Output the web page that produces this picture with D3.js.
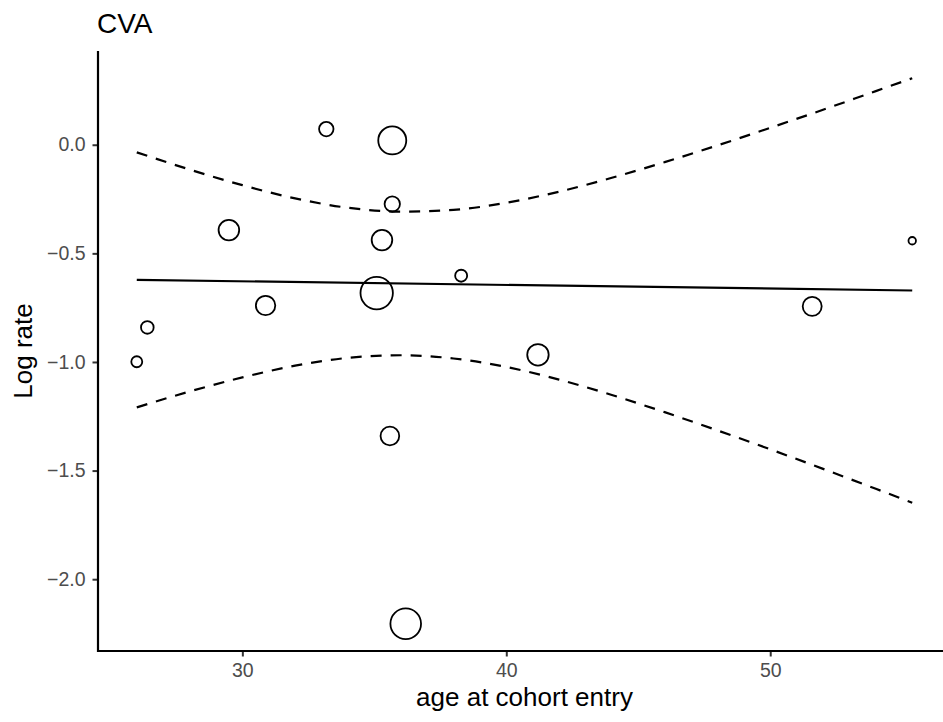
<!DOCTYPE html>
<html>
<head>
<meta charset="utf-8">
<script src="https://cdn.jsdelivr.net/npm/d3@7"></script>
<style>
  html, body { margin: 0; padding: 0; background: #fff; }
  svg { display: block; }
  text { font-family: "Liberation Sans", Arial, Helvetica, sans-serif; }
</style>
</head>
<body>
<svg id="chart" width="943" height="722"></svg>
<script>
// ---- data ----
const title = "CVA";
const xLabel = "age at cohort entry";
const yLabel = "Log rate";

// studies: age at cohort entry, log rate, weight (marker size)
const studyAge    = [26.00, 26.40, 29.49, 30.88, 33.18, 35.09, 35.29, 35.59, 35.68, 35.68, 36.19, 38.29, 41.20, 51.59, 55.38];
const studyLogRate= [-0.999, -0.841, -0.393, -0.740, 0.072, -0.683, -0.439, -1.341, 0.020, -0.273, -2.205, -0.603, -0.967, -0.744, -0.442];
const studyWeight = [3.0, 4.0, 10.6, 9.4, 5.2, 26.2, 10.6, 8.7, 19.6, 5.9, 23.4, 3.6, 11.5, 9.0, 1.4];

// fitted meta-regression line (end points)
const fitAge  = [26.00, 55.38];
const fitRate = [-0.622, -0.671];

// confidence band
const ciAge   = [26, 28, 30, 32, 34, 36, 38, 40, 42, 44, 46, 48, 50, 52, 54, 55.38];
const ciUpper = [-0.035, -0.114, -0.186, -0.247, -0.290, -0.308, -0.300, -0.267, -0.216, -0.152, -0.080, -0.003, 0.078, 0.161, 0.247, 0.306];
const ciLower = [-1.209, -1.136, -1.071, -1.017, -0.981, -0.969, -0.984, -1.023, -1.081, -1.152, -1.231, -1.315, -1.402, -1.492, -1.584, -1.648];

const xTicks = [30, 40, 50];
const yTicks = [0, -0.5, -1.0, -1.5, -2.0];

// ---- layout ----
const svg = d3.select("#chart");
const panel = { left: 98, top: 51, bottom: 651, right: 951 };

function expand(lo, hi, f) { const r = hi - lo; return [lo - f * r, hi + f * r]; }

const xAll = studyAge.concat(fitAge, ciAge);
const yAll = studyLogRate.concat(fitRate, ciUpper, ciLower);
const xDom = expand(d3.min(xAll), d3.max(xAll), 0.05);
const yDom = expand(d3.min(yAll), d3.max(yAll), 0.05);

const x = d3.scaleLinear().domain(xDom).range([panel.left, panel.right]);
const y = d3.scaleLinear().domain(yDom).range([panel.bottom, panel.top]);
const r = d3.scaleSqrt().domain([0, d3.max(studyWeight)]).range([0, 16.2]);

const fmt = v => (v < 0 ? "\u2212" : "") + Math.abs(v).toFixed(1);

// ---- confidence band (dashed) ----
const line = d3.line().x(d => x(d[0])).y(d => y(d[1])).curve(d3.curveMonotoneX);
const upper = ciAge.map((a, i) => [a, ciUpper[i]]);
const lower = ciAge.map((a, i) => [a, ciLower[i]]);
[upper, lower].forEach(pts => {
  svg.append("path")
    .attr("d", line(pts))
    .attr("fill", "none")
    .attr("stroke", "#000")
    .attr("stroke-width", 2.2)
    .attr("stroke-dasharray", "11,9");
});

// ---- fitted line ----
svg.append("path")
  .attr("d", d3.line().x(d => x(d[0])).y(d => y(d[1]))(fitAge.map((a, i) => [a, fitRate[i]])))
  .attr("fill", "none")
  .attr("stroke", "#000")
  .attr("stroke-width", 2.2);

// ---- study points ----
svg.append("g").selectAll("circle")
  .data(studyAge.map((a, i) => ({ a, v: studyLogRate[i], w: studyWeight[i] })))
  .join("circle")
  .attr("cx", d => x(d.a))
  .attr("cy", d => y(d.v))
  .attr("r", d => r(d.w))
  .attr("fill", "none")
  .attr("stroke", "#000")
  .attr("stroke-width", 1.8);

// ---- axes ----
const xAxis = d3.axisBottom(x).tickValues(xTicks).tickFormat(d3.format("d")).tickSize(5.5).tickPadding(6.5);
const gx = svg.append("g").attr("transform", `translate(0,${panel.bottom})`).call(xAxis);
const yAxis = d3.axisLeft(y).tickValues(yTicks).tickFormat(fmt).tickSize(5.5).tickPadding(7);
const gy = svg.append("g").attr("transform", `translate(${panel.left},0)`).call(yAxis);

[gx, gy].forEach(g => {
  g.select(".domain").remove();
  g.selectAll(".tick line").attr("stroke", "#333").attr("stroke-width", 2);
  g.selectAll(".tick text").attr("fill", "#4d4d4d").style("font-size", "19.5px")
   .style("font-family", '"Liberation Sans", Arial, sans-serif');
});

// axis lines
svg.append("line").attr("x1", panel.left).attr("x2", panel.right + 10)
  .attr("y1", panel.bottom).attr("y2", panel.bottom)
  .attr("stroke", "#000").attr("stroke-width", 2.2);
svg.append("line").attr("x1", panel.left).attr("x2", panel.left)
  .attr("y1", panel.top).attr("y2", panel.bottom + 1.1)
  .attr("stroke", "#000").attr("stroke-width", 2.2);

// ---- titles ----
svg.append("text").attr("x", 97).attr("y", 33)
  .style("font-size", "28px").attr("fill", "#000").text(title);

svg.append("text").attr("x", (panel.left + panel.right) / 2).attr("y", 706)
  .attr("text-anchor", "middle").style("font-size", "26px").attr("fill", "#000").text(xLabel);

svg.append("text")
  .attr("transform", `translate(32,${(panel.top + panel.bottom) / 2}) rotate(-90)`)
  .attr("text-anchor", "middle").style("font-size", "26px").attr("fill", "#000").text(yLabel);
</script>
</body>
</html>
